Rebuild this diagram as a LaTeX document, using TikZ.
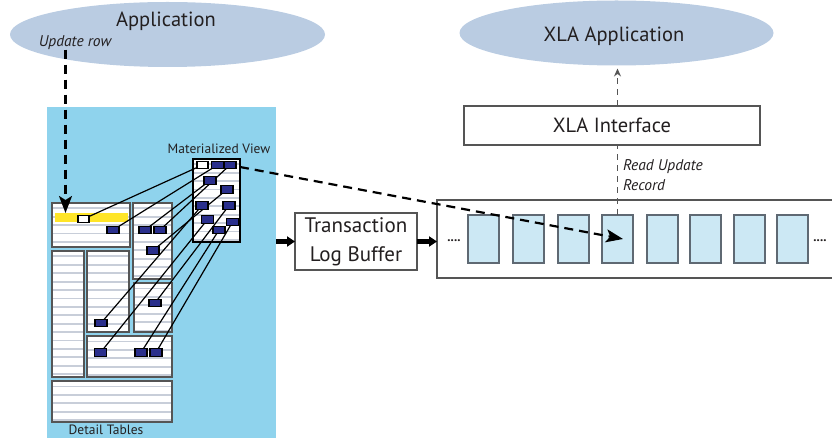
\documentclass[tikz,border=0pt]{standalone}
\usepackage{fontspec}
\setmainfont{PT Sans}
\usetikzlibrary{arrows.meta,shapes.geometric}
\definecolor{ink}{RGB}{35,31,32}
\definecolor{appfill}{RGB}{186,204,226}
\definecolor{panelblue}{RGB}{143,211,237}
\definecolor{cellblue}{RGB}{204,232,244}
\definecolor{cellline}{RGB}{95,105,115}
\definecolor{boxline}{RGB}{85,85,85}
\definecolor{stripegray}{RGB}{200,206,217}
\definecolor{rowblue}{RGB}{42,47,140}
\definecolor{rowyellow}{RGB}{255,229,40}
\pgfdeclarelayer{tables}
\pgfdeclarelayer{links}
\pgfsetlayers{tables,links,main}
\begin{document}
\begin{tikzpicture}[x=1pt,y=-1pt,
  every node/.style={inner sep=0pt, outer sep=0pt, text=ink},
  appell/.style={ellipse, fill=appfill, draw=none},
  bigtext/.style={font=\fontsize{20.5}{26}\selectfont},
  tagtext/.style={font=\fontsize{15.5}{20.5}\selectfont\itshape},
  smalltext/.style={font=\fontsize{13.5}{16}\selectfont},
  plainbox/.style={rectangle, draw=boxline, line width=1.3, fill=white},
  panel/.style={rectangle, fill=panelblue, anchor=north west},
  stripes/.style={path picture={
      \foreach \k in {1,...,20}{
        \draw[stripegray, line width=1.8]
          ([yshift={3-\k*8.4}]path picture bounding box.north west) --
          ([yshift={3-\k*8.4}]path picture bounding box.north east);}}},
  dtable/.style={rectangle, draw=boxline, line width=1.5, fill=white, stripes, anchor=north west},
  mvtable/.style={rectangle, draw=black, line width=2.2, fill=white, stripes, anchor=north west},
  rowbox/.style={rectangle, draw=black, line width=1.4, fill=rowblue, minimum width=12, minimum height=7.5},
  keybox/.style={rectangle, draw=black, line width=1.2, fill=white, minimum width=11, minimum height=6.5},
  hilite/.style={rectangle, fill=rowyellow, anchor=north west},
  link/.style={draw=black, line width=1.2},
  logcell/.style={rectangle, draw=cellline, line width=1.2, fill=cellblue, minimum width=31, minimum height=48, anchor=north west},
  flowdash/.style={draw=black, line width=2.2, dash pattern=on 9 off 6, -{Stealth[length=17, width=13, inset=4]}},
  readdash/.style={draw=boxline, line width=1.1, dash pattern=on 6 off 5},
  bigarrow/.style={draw=black, line width=4.5, -{Triangle[length=8, width=10]}},
]
\useasboundingbox (0,0) rectangle (832,438);

% the two applications
\node[appell, minimum width=315, minimum height=65] (app) at (167.5,34.5) {};
\node[bigtext, anchor=base] (apptitle) at (166,27) {Application};
\node[tagtext, anchor=base] (updrow) at (75,46.5) {Update row};
\node[appell, minimum width=314, minimum height=65] (xla) at (616.5,33) {};
\node[bigtext, anchor=base] (xlatitle) at (614,42) {XLA Application};

% database with detail tables and the materialized view
\begin{pgfonlayer}{tables}
\node[panel, minimum width=229, minimum height=331] (panel) at (47,107) {};
\node[dtable, minimum width=78, minimum height=44] (t1) at (52,203) {};
\node[hilite, minimum width=73, minimum height=9] (hl) at (55,213) {};
\node[dtable, minimum width=39, minimum height=76] (t2) at (133,203) {};
\node[dtable, minimum width=32, minimum height=126] (t3) at (52,251) {};
\node[dtable, minimum width=42, minimum height=81] (t4) at (87,251) {};
\node[dtable, minimum width=38, minimum height=49] (t5) at (134,283) {};
\node[dtable, minimum width=85, minimum height=41] (t6) at (87,336) {};
\node[dtable, minimum width=120, minimum height=41] (t7) at (52,381) {};
\node[mvtable, minimum width=47, minimum height=83] (mv) at (193,159) {};
\end{pgfonlayer}
\node[smalltext, anchor=base] (mvlabel) at (219,154) {Materialized View};
\node[smalltext, anchor=base] (dtlabel) at (106,434) {Detail Tables};

% rows of the view
\node[keybox] (mw) at (202.5,165) {};
\node[rowbox] (m2) at (217.5,165) {};
\node[rowbox] (m3) at (230,165) {};
\node[rowbox] (m4) at (210,180.5) {};
\node[rowbox] (m5) at (227,189.5) {};
\node[rowbox] (m6) at (202,205.5) {};
\node[rowbox] (m7) at (229,205.5) {};
\node[rowbox] (m8) at (207.5,219.5) {};
\node[rowbox] (m9) at (232.5,222) {};
\node[rowbox] (m10) at (219,230) {};

% rows of the detail tables
\node[keybox] (dw) at (83.5,219) {};
\node[rowbox] (d1) at (113,230) {};
\node[rowbox] (d2) at (145,230) {};
\node[rowbox] (d3) at (160,230) {};
\node[rowbox] (d4) at (153,250.5) {};
\node[rowbox] (d5) at (155,303) {};
\node[rowbox] (d6) at (101,323) {};
\node[rowbox] (d7) at (100.5,352.5) {};
\node[rowbox] (d8) at (141,352.5) {};
\node[rowbox] (d9) at (156,352.5) {};

% each view row points back to its source row
\begin{pgfonlayer}{links}
\draw[link] (mw.center) -- (dw.center);
\draw[link] (m2.center) -- (d1.center);
\draw[link] (m3.center) -- (d3.center);
\draw[link] (m4.center) -- (d2.center);
\draw[link] (m5.center) -- (d4.center);
\draw[link] (m6.center) -- (d6.center);
\draw[link] (m7.center) -- (d5.center);
\draw[link] (m8.center) -- (d7.center);
\draw[link] (m10.center) -- (d8.center);
\draw[link] (m9.center) -- (d9.center);
\end{pgfonlayer}

% transaction log
\node[plainbox, minimum width=122, minimum height=57, anchor=north west, align=center,
      font=\fontsize{21}{29}\selectfont] (tlb) at (295,213) {Transaction\\Log Buffer};
\node[plainbox, minimum width=397, minimum height=78, anchor=north west] (logbuf) at (437,200) {};
\foreach \i/\x in {1/468,2/513,3/558,4/602,5/647,6/690,7/734,8/777}
  \node[logcell] (c\i) at (\x,215) {};
\node[font=\fontsize{13}{13}\selectfont\bfseries, anchor=base] (dotsl) at (454,241.5) {....};
\node[font=\fontsize{13}{13}\selectfont\bfseries, anchor=base] (dotsr) at (820,241.5) {....};

% XLA interface
\node[plainbox, minimum width=296, minimum height=39, anchor=north west,
      font=\fontsize{20.5}{26}\selectfont] (xif) at (464,106) {XLA Interface};
\node[tagtext, anchor=west, align=left] (readrec) at (623,175) {Read Update\\Record};

% flows
\coordinate (updend) at (65.5,213);
\coordinate (readpos) at (623,239);
\draw[flowdash] (updrow.south -| updend) -- (updend);
\draw[flowdash] ([yshift=-8]mv.north east) -- (readpos);
\draw[bigarrow] (panel.east |- tlb.west) -- (tlb.west);
\draw[bigarrow] (tlb.east) -- (tlb.east -| logbuf.west);
\draw[readdash] (c4.north) -- (c4.north |- xif.south);
\draw[readdash, -{Stealth[length=8, width=7]}, shorten >=3] (c4.north |- xif.north) -- (c4.north |- xla.south);
\end{tikzpicture}
\end{document}
